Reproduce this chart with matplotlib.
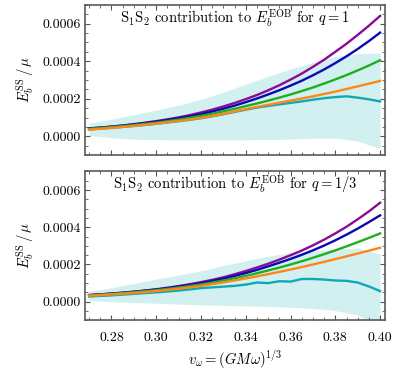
import numpy as np
import matplotlib
matplotlib.use("Agg")
import matplotlib.pyplot as plt
from matplotlib.ticker import MultipleLocator, FormatStrFormatter

plt.rcParams["font.family"] = "serif"
plt.rcParams["font.serif"] = ["cmr10"]
plt.rcParams["mathtext.fontset"] = "cm"
plt.rcParams["axes.formatter.use_mathtext"] = True
plt.rcParams["font.size"] = 10.5

# velocity grid for the uncertainty bands
v = [0.27, 0.28, 0.29, 0.30, 0.31, 0.32, 0.33, 0.34, 0.35, 0.36, 0.37, 0.38, 0.39, 0.40]
# finer grid for the curves
v_fine = [0.27, 0.275, 0.28, 0.285, 0.29, 0.295, 0.30, 0.305, 0.31, 0.315, 0.32, 0.325,
          0.33, 0.335, 0.34, 0.345, 0.35, 0.355, 0.36, 0.365, 0.37, 0.375, 0.38, 0.385,
          0.39, 0.395, 0.40]

# q = 1 panel (units of 1e-5)
q1_purple = [4.2, 4.67, 5.2, 5.81, 6.5, 7.26, 8.1, 9.05, 10.1, 11.3, 12.7, 14.2, 15.9, 17.75,
             19.8, 22.0, 24.5, 27.2, 30.2, 33.4, 37.0, 40.8, 45.0, 49.3, 54.0, 58.9, 64.1]
q1_blue = [4.2, 4.63, 5.1, 5.67, 6.3, 7.01, 7.8, 8.65, 9.6, 10.65, 11.8, 13.2, 14.7, 16.35,
           18.2, 20.15, 22.3, 24.55, 27.0, 29.6, 32.5, 35.6, 39.0, 42.6, 46.5, 50.7, 55.2]
q1_green = [4.0, 4.43, 4.9, 5.42, 6.0, 6.62, 7.3, 8.06, 8.9, 9.85, 10.9, 12.05, 13.3, 14.65,
            16.1, 17.5, 19.0, 20.6, 22.3, 24.1, 26.0, 28.1, 30.3, 32.6, 35.1, 37.7, 40.5]
q1_orange = [3.6, 4.03, 4.5, 5.02, 5.6, 6.17, 6.8, 7.47, 8.2, 8.97, 9.8, 10.85, 12.0, 13.25,
             14.5, 15.65, 16.8, 17.9, 19.0, 20.15, 21.3, 22.55, 23.8, 25.2, 26.6, 28.05, 29.5]
q1_nr = [3.7, 4.1, 4.5, 5.0, 5.5, 6.05, 6.7, 7.35, 8.05, 8.8, 9.65, 10.65, 11.8, 13.0,
         14.2, 15.3, 16.2, 17.0, 17.8, 18.6, 19.5, 20.3, 20.9, 21.3, 20.6, 19.7, 18.6]
q1_band_hi = [7.0, 9.0, 11.6, 14.0, 16.5, 19.7, 23.5, 27.8, 32.0, 35.8, 39.4, 42.5, 44.0, 44.2]
q1_band_lo = [0.4, -0.8, -1.5, -1.8, -1.9, -1.9, -1.9, -1.9, -1.7, -1.5, -1.0, -1.0, -2.5, -6.6]

# q = 1/3 panel (units of 1e-5)
q3_purple = [3.6, 3.98, 4.4, 4.88, 5.4, 6.02, 6.7, 7.5, 8.4, 9.4, 10.5, 11.75, 13.1, 14.75,
             16.5, 18.4, 20.4, 22.6, 25.0, 27.5, 30.3, 33.35, 36.7, 40.3, 44.3, 48.55, 53.2]
q3_blue = [3.5, 3.88, 4.3, 4.78, 5.3, 5.88, 6.5, 7.26, 8.1, 9.0, 10.0, 11.15, 12.4, 13.85,
           15.4, 17.1, 19.0, 20.95, 23.0, 25.2, 27.6, 30.2, 33.0, 36.05, 39.3, 42.8, 46.4]
q3_green = [3.4, 3.78, 4.2, 4.63, 5.1, 5.62, 6.2, 6.87, 7.6, 8.42, 9.3, 10.3, 11.4, 12.6,
            13.9, 15.3, 16.8, 18.35, 20.0, 21.75, 23.6, 25.55, 27.6, 29.75, 32.0, 34.3, 36.7]
q3_orange = [3.2, 3.53, 3.9, 4.28, 4.7, 5.17, 5.7, 6.32, 7.0, 7.72, 8.5, 9.43, 10.4, 11.42,
             12.5, 13.62, 14.8, 16.02, 17.3, 18.62, 20.0, 21.42, 22.9, 24.38, 25.9, 27.43, 29.0]
q3_nr = [2.8, 3.1, 3.4, 3.8, 4.2, 4.6, 5.0, 5.5, 6.0, 6.6, 7.3, 7.7, 8.1, 8.5, 9.2,
         10.3, 10.0, 11.0, 10.8, 12.2, 12.2, 11.9, 11.4, 11.2, 10.3, 8.2, 5.7]
q3_band_hi = [5.5, 7.5, 9.8, 12.2, 14.3, 16.6, 19.5, 22.0, 24.5, 26.3, 27.3, 28.2, 28.8, 25.6]
q3_band_lo = [0.7, 0.0, -0.5, -0.8, -1.3, -1.7, -2.0, -2.3, -2.6, -3.0, -3.6, -4.8, -7.2, -14.0]

c_purple = "#8b0a96"
c_blue = "#0a0ab4"
c_green = "#1fae1f"
c_orange = "#ff8616"
c_nr = "#10a8b4"
c_band = "#d3f0f0"

panels = [
    (r"S$_1$S$_2$ contribution to $E_b^{\mathrm{EOB}}$ for $q=1$",
     q1_purple, q1_blue, q1_green, q1_orange, q1_nr, q1_band_lo, q1_band_hi),
    (r"S$_1$S$_2$ contribution to $E_b^{\mathrm{EOB}}$ for $q=1/3$",
     q3_purple, q3_blue, q3_green, q3_orange, q3_nr, q3_band_lo, q3_band_hi),
]

fig = plt.figure(figsize=(4.07, 3.72), dpi=100)
boxes = [[0.209, 0.583, 0.737, 0.404], [0.209, 0.139, 0.737, 0.400]]

for box, (title, pu, bl, gr, orr, nr, lo, hi) in zip(boxes, panels):
    ax = fig.add_axes(box)
    s = 1e-5
    ax.fill_between(v, np.array(lo) * s, np.array(hi) * s, color=c_band, lw=0)
    ax.plot(v_fine, np.array(nr) * s, color=c_nr, lw=1.7)
    ax.plot(v_fine, np.array(pu) * s, color=c_purple, lw=1.7)
    ax.plot(v_fine, np.array(bl) * s, color=c_blue, lw=1.7)
    ax.plot(v_fine, np.array(gr) * s, color=c_green, lw=1.7)
    ax.plot(v_fine, np.array(orr) * s, color=c_orange, lw=1.7)

    ax.set_xlim(0.2682, 0.4022)
    ax.set_ylim(-0.0001, 0.0007)
    ax.xaxis.set_major_locator(MultipleLocator(0.02))
    ax.xaxis.set_minor_locator(MultipleLocator(0.005))
    ax.yaxis.set_major_locator(MultipleLocator(0.0002))
    ax.yaxis.set_minor_locator(MultipleLocator(0.00005))
    ax.xaxis.set_major_formatter(FormatStrFormatter("%.2f"))
    ax.yaxis.set_major_formatter(FormatStrFormatter("%.4f"))
    ax.tick_params(which="both", direction="in", top=True, right=True,
                   color="#555555", labelsize=10)
    ax.tick_params(which="major", length=3.5, width=0.8)
    ax.tick_params(which="minor", length=2, width=0.6)
    ax.tick_params(axis="y", which="major", pad=3)
    ax.tick_params(axis="x", which="major", pad=8)
    for sp in ax.spines.values():
        sp.set_color("#5a5a5a")
        sp.set_linewidth(1.2)

    ax.set_ylabel(r"$E_b^{\mathrm{SS}}\,/\,\mu$", labelpad=4)
    ax.text(0.5, 0.91, title, transform=ax.transAxes, ha="center", va="center")

    if box[1] > 0.5:
        ax.tick_params(labelbottom=False)
    else:
        ax.set_xlabel(r"$v_\omega = (GM\omega)^{1/3}$", labelpad=4)

fig.savefig("out.png", dpi=100)
